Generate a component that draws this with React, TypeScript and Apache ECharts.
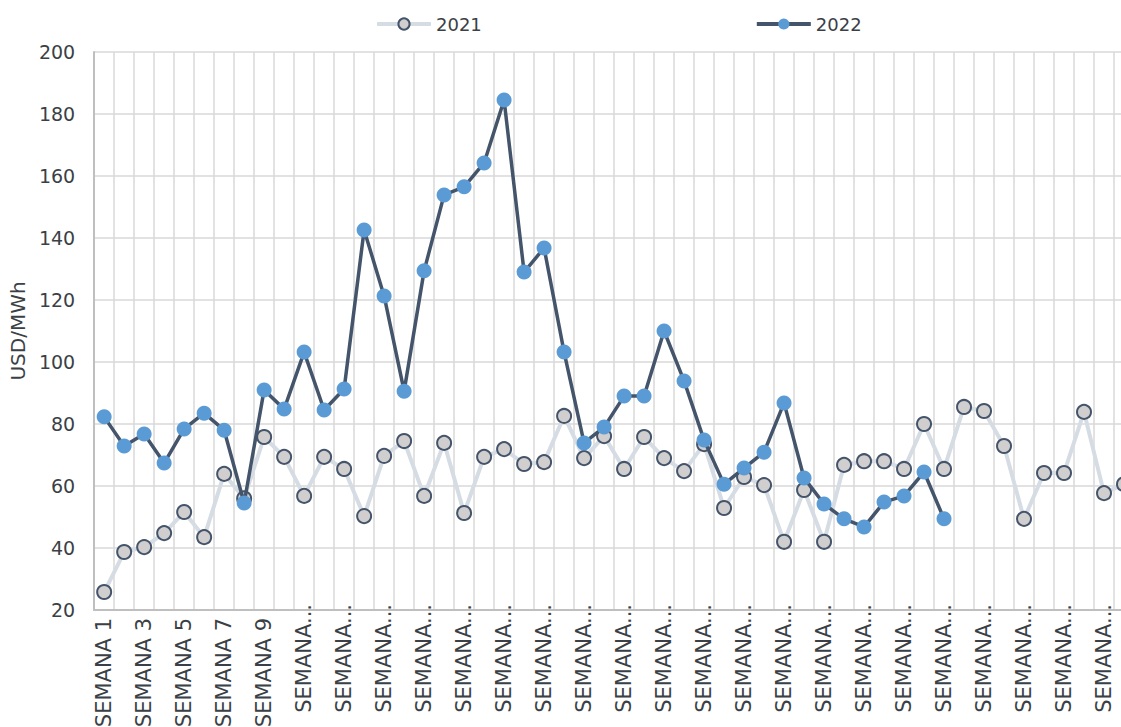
import React, { useEffect, useRef } from "react";
import * as echarts from "echarts";

const weeks: string[] = Array.from({ length: 52 }, (_, i) => `SEMANA ${i + 1}`);

const values2021: number[] = [
  25.8, 38.7, 40.3, 44.8, 51.6, 43.5, 63.9, 56.0, 75.8, 69.4,
  56.8, 69.4, 65.5, 50.3, 69.7, 74.5, 56.8, 73.9, 51.3, 69.4,
  71.9, 67.1, 67.7, 82.6, 69.0, 76.1, 65.5, 75.8, 69.0, 64.8,
  73.5, 52.9, 62.9, 60.3, 42.0, 58.7, 42.0, 66.8, 68.0, 68.0,
  65.5, 80.0, 65.5, 85.5, 84.2, 72.9, 49.4, 64.2, 64.2, 83.9,
  57.7, 60.6,
];

const values2022: (number | null)[] = [
  82.3, 72.9, 76.8, 67.4, 78.4, 83.5, 78.0, 54.5, 91.0, 84.8,
  103.2, 84.5, 91.3, 142.6, 121.3, 90.6, 129.4, 153.9, 156.5, 164.2,
  184.5, 129.0, 136.8, 103.2, 73.9, 79.0, 89.0, 89.0, 110.0, 93.9,
  74.8, 60.6, 65.8, 70.9, 86.8, 62.6, 54.2, 49.4, 46.8, 54.8,
  56.8, 64.5, 49.4,
];

const seriesNames: string[] = ["2021", "2022"];
const yTicks = { min: 20, max: 200, interval: 20 };
const yAxisName = "USD/MWh";

const FONT = "'DejaVu Sans', sans-serif";
const TEXT = "#3b3f46";
const C21_LINE = "#d6dce4";
const C21_FILL = "#d0cece";
const C22_LINE = "#44546a";
const C22_FILL = "#5b9bd5";

export default function App() {
  const ref = useRef<HTMLDivElement>(null);
  useEffect(() => {
    if (!ref.current) return;
    const chart = echarts.init(ref.current, undefined, { renderer: "svg" });
    const xCommon = {
      type: "category" as const,
      data: weeks,
      boundaryGap: true,
      position: "bottom" as const,
      gridIndex: 0,
    };
    chart.setOption({
      animation: false,
      backgroundColor: "#ffffff",
      textStyle: { fontFamily: FONT },
      legend: {
        top: 10,
        left: 370,
        itemGap: 273,
        itemWidth: 54,
        itemHeight: 14,
        textStyle: { fontSize: 18, color: TEXT, fontFamily: FONT },
        data: [
          {
            name: seriesNames[0],
            lineStyle: { color: C21_LINE, width: 4 },
            itemStyle: { color: C21_FILL, borderColor: C22_LINE, borderWidth: 2 },
          },
          {
            name: seriesNames[1],
            lineStyle: { color: C22_LINE, width: 4 },
            itemStyle: { color: C22_FILL, borderWidth: 0 },
          },
        ],
      },
      grid: { left: 94, top: 52, width: 1040, height: 558, containLabel: false },
      xAxis: [
        {
          ...xCommon,
          axisLine: { show: true, lineStyle: { color: "#bfbfbf", width: 2 } },
          axisTick: { show: false },
          splitLine: { show: true, interval: 0, lineStyle: { color: "#d9d9d9", width: 1.5 } },
          axisLabel: {
            interval: 1,
            rotate: 90,
            margin: 8,
            fontSize: 21,
            color: TEXT,
            fontFamily: FONT,
            formatter: (v: string, i: number) => (i < 9 ? v : ""),
          },
        },
        {
          ...xCommon,
          axisLine: { show: false },
          axisTick: { show: false },
          splitLine: { show: false },
          axisLabel: {
            interval: 1,
            rotate: 90,
            margin: -6,
            fontSize: 21,
            color: TEXT,
            fontFamily: FONT,
            formatter: (v: string, i: number) => (i >= 9 ? "SEMANA..." : ""),
          },
        },
      ],
      yAxis: {
        type: "value",
        min: yTicks.min,
        max: yTicks.max,
        interval: yTicks.interval,
        name: yAxisName,
        nameLocation: "middle",
        nameGap: 66,
        nameTextStyle: { fontSize: 20, color: TEXT, fontFamily: FONT },
        axisLine: { show: true, lineStyle: { color: "#bfbfbf", width: 2 } },
        axisTick: { show: false },
        splitLine: { show: true, lineStyle: { color: "#d9d9d9", width: 1.5 } },
        axisLabel: { margin: 19, fontSize: 19, color: TEXT, fontFamily: FONT },
      },
      series: [
        {
          name: seriesNames[0],
          type: "line",
          data: values2021,
          symbol: "circle",
          symbolSize: 14,
          showAllSymbol: true,
          lineStyle: { color: C21_LINE, width: 4 },
          itemStyle: { color: C21_FILL, borderColor: C22_LINE, borderWidth: 2 },
          z: 2,
        },
        {
          name: seriesNames[1],
          type: "line",
          data: values2022,
          symbol: "circle",
          symbolSize: 15,
          showAllSymbol: true,
          lineStyle: { color: C22_LINE, width: 3.5 },
          itemStyle: { color: C22_FILL, borderWidth: 0 },
          z: 3,
        },
      ],
    });
    return () => chart.dispose();
  }, []);
  return (
    <div style={{ position: "fixed", left: 0, top: 0, width: 1121, height: 727, overflow: "hidden", background: "#fff" }}>
      <div ref={ref} style={{ width: 1150, height: 780 }} />
    </div>
  );
}
